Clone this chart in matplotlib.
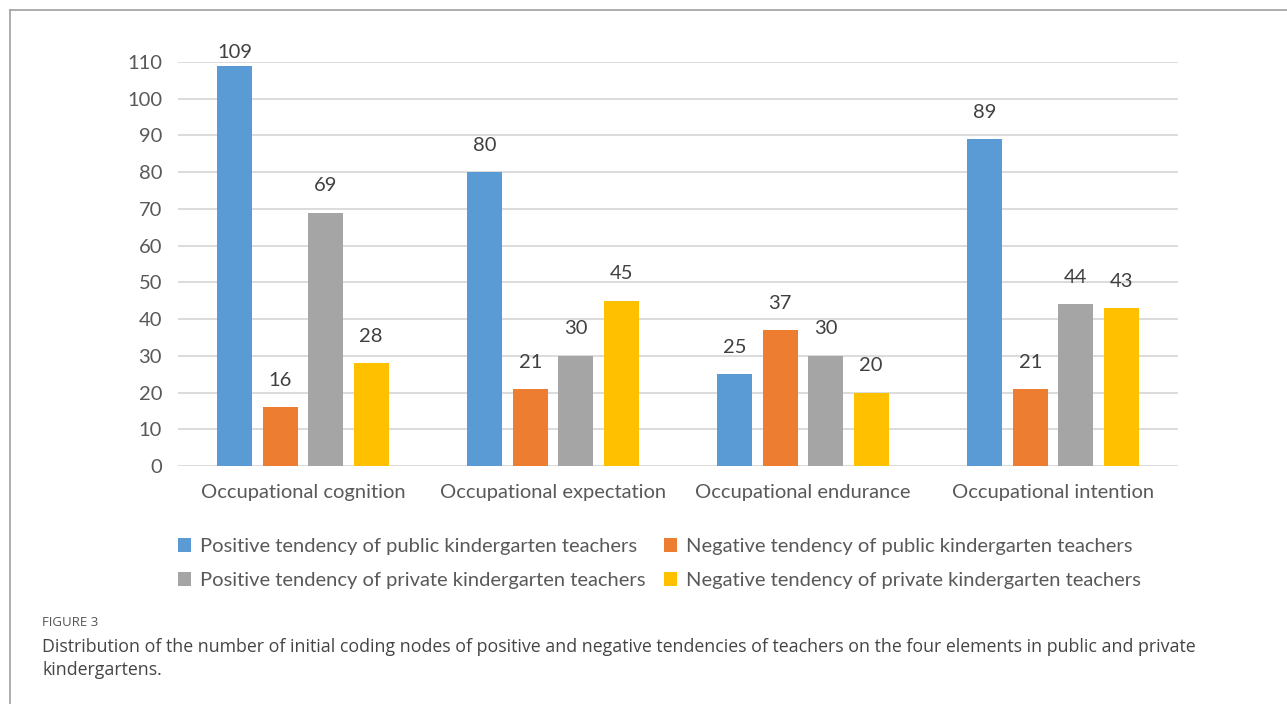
import matplotlib
matplotlib.use("Agg")
import matplotlib.pyplot as plt
import numpy as np
from matplotlib.patches import Patch
from matplotlib.lines import Line2D

categories = ["Occupational cognition", "Occupational expectation",
              "Occupational endurance", "Occupational intention"]
series_names = ["Positive tendency of public kindergarten teachers",
                "Negative tendency of public kindergarten teachers",
                "Positive tendency of private kindergarten teachers",
                "Negative tendency of private kindergarten teachers"]
pos_public = [109, 80, 25, 89]
neg_public = [16, 21, 37, 21]
pos_private = [69, 30, 30, 44]
neg_private = [28, 45, 20, 43]
yticks = list(range(0, 111, 10))
colors = ["#5B9BD5", "#ED7D31", "#A5A5A5", "#FFC000"]

plt.rcParams['font.family'] = ['Lato', 'DejaVu Sans']
txt = "#595959"

fig = plt.figure(figsize=(12.87, 7.04), dpi=100)
ax = fig.add_axes([178/1287, 1-466/704, 1000/1287, 404/704])

x = np.arange(len(categories))
width = 0.14
step = 0.182
all_series = [pos_public, neg_public, pos_private, neg_private]
for i, (vals, c) in enumerate(zip(all_series, colors)):
    off = (i - 1.5) * step
    bars = ax.bar(x + off, vals, width, color=c, zorder=3, label=series_names[i])
    for b, v in zip(bars, vals):
        ax.text(b.get_x() + b.get_width()/2, min(v + 5.0, 110.3), str(v), ha='center',
                va='bottom', fontsize=14.5, color="#404040", clip_on=False, zorder=4)

ax.set_xlim(-0.5, 3.5)
ax.set_ylim(0, 110)
ax.set_yticks(yticks)
ax.set_yticklabels([str(t) for t in yticks], fontsize=14.5, color=txt)
ax.set_xticks(x)
ax.set_xticklabels(categories, fontsize=14.5, color=txt)
ax.tick_params(axis='both', length=0)
ax.tick_params(axis='y', pad=11.5)
ax.tick_params(axis='x', pad=13)
ax.yaxis.grid(True, color="#D9D9D9", linewidth=1.3, zorder=0)
ax.set_axisbelow(True)
for s in ax.spines.values():
    s.set_visible(False)

handles = [Patch(facecolor=c, edgecolor='none') for c in colors]
order = [0, 2, 1, 3]
leg = fig.legend([handles[k] for k in order], [series_names[k] for k in order],
                 loc='upper left', bbox_to_anchor=(160/1287, 1-520/704),
                 ncol=2, frameon=False, fontsize=14.5, labelcolor=txt,
                 handlelength=0.65, handleheight=0.65, handletextpad=0.45,
                 columnspacing=0.9, labelspacing=0.85)

# figure frame lines
fig.add_artist(Line2D([10/1287, 1], [1-10/704, 1-10/704], color="#A0A0A0", linewidth=1.2))
fig.add_artist(Line2D([10/1287, 10/1287], [0, 1-10/704], color="#A0A0A0", linewidth=1.2))

fig.text(42/1287, 1-623/704, "FIGURE 3", fontsize=9.5, color="#555555",
         family=['Open Sans', 'DejaVu Sans'], va='center')
fig.text(42/1287, 1-647/704,
         "Distribution of the number of initial coding nodes of positive and negative tendencies of teachers on the four elements in public and private",
         fontsize=12.8, color="#444444", family=['Open Sans', 'DejaVu Sans'], va='center')
fig.text(42/1287, 1-670/704, "kindergartens.", fontsize=12.8, color="#444444",
         family=['Open Sans', 'DejaVu Sans'], va='center')

fig.savefig("out.png", dpi=100)
